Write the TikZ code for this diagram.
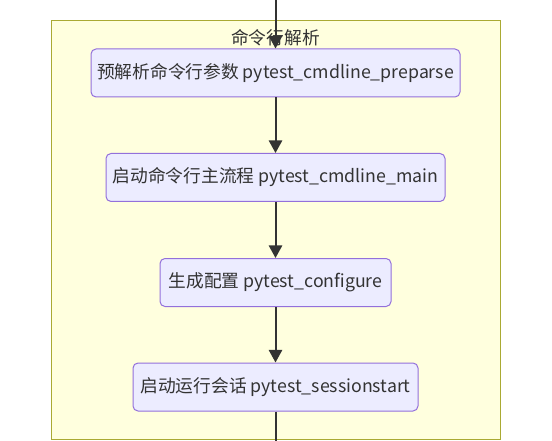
\documentclass[tikz,border=0pt]{standalone}
\usepackage{fontspec}
\setmainfont{Noto Sans CJK SC}
\usetikzlibrary{arrows.meta}
\definecolor{clusterfill}{HTML}{FFFFDE}
\definecolor{clusterline}{HTML}{AAAA33}
\definecolor{nodefill}{HTML}{ECECFF}
\definecolor{nodeline}{HTML}{9370DB}
\definecolor{edgecol}{HTML}{333333}
\definecolor{textcol}{HTML}{333333}
\begin{document}
\begin{tikzpicture}[x=0.75pt,y=-0.75pt,
  txt/.style={font=\fontsize{13.3pt}{15pt}\selectfont,text=textcol},
  stepbox/.style={txt,draw=nodeline,fill=nodefill,line width=0.75pt,rounded corners=3.75pt,
    minimum height=36pt,inner sep=0pt},
  flow/.style={draw=edgecol,line width=1.5pt,-{Triangle[length=9.5pt,width=10pt]}}]
\useasboundingbox (0,0) rectangle (552,441);
\fill[white] (0,0) rectangle (552,441);
\draw[draw=clusterline,fill=clusterfill,line width=0.75pt] (51,21) rectangle (500,439);
\node[txt] (title) at (275.5,37.5) {命令行解析};
\coordinate (top) at (275.5,0);
\coordinate (bottom) at (275.5,441);
\node[stepbox,minimum width=276.75pt] (n1) at (275.5,73) {预解析命令行参数 pytest\_cmdline\_preparse};
\node[stepbox,minimum width=254.25pt] (n2) at (275.5,177.5) {启动命令行主流程 pytest\_cmdline\_main};
\node[stepbox,minimum width=173.25pt] (n3) at (275.5,282.5) {生成配置 pytest\_configure};
\node[stepbox,minimum width=213.75pt] (n4) at (275.5,387) {启动运行会话 pytest\_sessionstart};
\draw[flow] (top) -- (n1);
\draw[flow] (n1) -- (n2);
\draw[flow] (n2) -- (n3);
\draw[flow] (n3) -- (n4);
\draw[draw=edgecol,line width=1.5pt] (n4) -- (bottom);
\end{tikzpicture}
\end{document}
